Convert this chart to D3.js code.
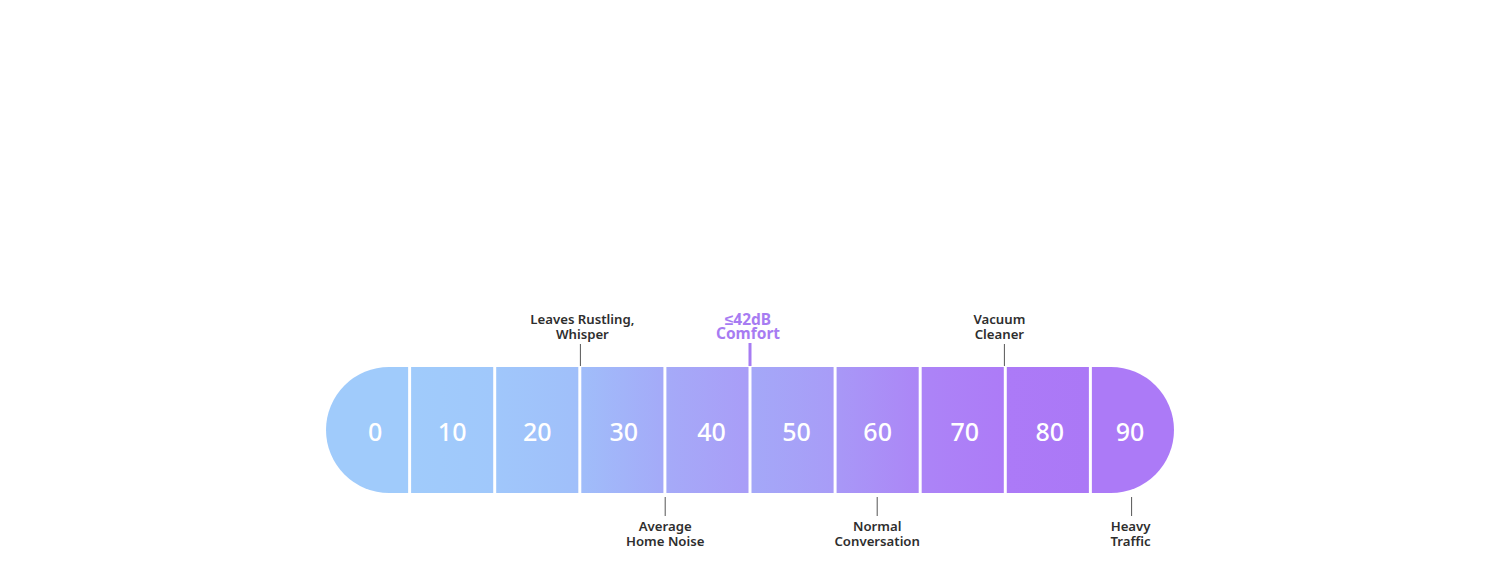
<!DOCTYPE html>
<html>
<head>
<meta charset="utf-8">
<script src="https://cdn.jsdelivr.net/npm/d3@7"></script>
<style>
  body { margin: 0; background: #fff; }
  text { font-family: "Noto Sans", sans-serif; }
</style>
</head>
<body>
<div id="viz-container"></div>
<script>
// sound levels, one cell per 10 dB
const levels = [0, 10, 20, 30, 40, 50, 60, 70, 80, 90];
// each cell fades from its own start colour to its end colour
const cellStart = ["#a0cbfb", "#a0cbfb", "#a0c7fb", "#a0bdfa", "#a5aaf8", "#a4a8f8", "#a898f7", "#ac84f7", "#ac7af7", "#ac7af7"];
const cellEnd   = ["#a0cbfb", "#a0c8fb", "#a0bffa", "#a4aaf8", "#a99df7", "#a89cf7", "#ac86f6", "#ad7bf7", "#ab78f6", "#ac7af7"];

// annotations (dB position on the scale)
const noteText  = [["Leaves Rustling,", "Whisper"], ["Average", "Home Noise"], ["Normal", "Conversation"], ["Vacuum", "Cleaner"], ["Heavy", "Traffic"]];
const noteDb    = [30, 40, 65, 80, 95];
const noteSide  = ["top", "bottom", "bottom", "top", "bottom"];

const comfortText = ["≤42dB", "Comfort"];
const comfortDb = 50;

const W = 1500, H = 578;
const barTop = 367, barBottom = 493, mid = (barTop + barBottom) / 2, r = (barBottom - barTop) / 2;
// small nudges of the number labels from the cell centres, and of note text from its tick
const numShift = [8, 0, 0, 1.5, 4, 4, 0, 2, 2, -3];
const noteShift = [2, 0, 0, -5, -1];

let viz = d3.select("#viz-container")
              .append("svg")
                .attr("width", W)
                .attr("height", H)
;

let xBand = d3.scaleBand().domain(levels).range([326, 1174]).paddingInner(0.035).paddingOuter(0);
let xDb = d3.scaleLinear().domain([0, 100]).range([326, 1174]);

// gradients
let defs = viz.append("defs");
levels.forEach(function(d, i){
    let g = defs.append("linearGradient").attr("id", "g" + i)
                .attr("x1", "0%").attr("x2", "100%").attr("y1", "0%").attr("y2", "0%");
    g.append("stop").attr("offset", "0%").attr("stop-color", cellStart[i]);
    g.append("stop").attr("offset", "100%").attr("stop-color", cellEnd[i]);
});

function cellPath(d, i){
    let x0 = xBand(d), x1 = x0 + xBand.bandwidth();
    let p = d3.path();
    if (i === 0) {
        p.moveTo(x1, barTop);
        p.lineTo(x0 + r, barTop);
        p.arc(x0 + r, mid, r, -Math.PI / 2, Math.PI / 2, true);
        p.lineTo(x1, barBottom);
        p.closePath();
    } else if (i === levels.length - 1) {
        p.moveTo(x0, barTop);
        p.lineTo(x1 - r, barTop);
        p.arc(x1 - r, mid, r, -Math.PI / 2, Math.PI / 2, false);
        p.lineTo(x0, barBottom);
        p.closePath();
    } else {
        p.rect(x0, barTop, x1 - x0, barBottom - barTop);
    }
    return p.toString();
}

viz.selectAll("path.cell").data(levels).enter().append("path")
    .attr("class", "cell")
    .attr("d", cellPath)
    .attr("fill", function(d, i){ return "url(#g" + i + ")"; })
;

// numbers inside the cells
viz.selectAll("text.num").data(levels).enter().append("text")
    .attr("class", "num")
    .attr("x", function(d, i){ return xBand(d) + xBand.bandwidth() / 2 + numShift[i]; })
    .attr("y", 441)
    .attr("text-anchor", "middle")
    .attr("fill", "#fff")
    .attr("font-size", 25)
    .attr("font-weight", 500)
    .text(function(d){ return d; })
;

// annotations
let notes = viz.selectAll("g.note").data(noteDb).enter().append("g").attr("class", "note");
notes.append("line")
    .attr("x1", function(d){ return xDb(d); })
    .attr("x2", function(d){ return xDb(d); })
    .attr("y1", function(d, i){ return noteSide[i] === "top" ? 344 : 497; })
    .attr("y2", function(d, i){ return noteSide[i] === "top" ? 366 : 516; })
    .attr("stroke", "#555")
    .attr("stroke-width", 1)
;
notes.each(function(d, i){
    let g = d3.select(this);
    let y0 = noteSide[i] === "top" ? 324 : 531;
    noteText[i].forEach(function(t, j){
        g.append("text")
            .attr("x", xDb(d) + noteShift[i])
            .attr("y", y0 + j * 15)
            .attr("text-anchor", "middle")
            .attr("fill", "#2e2e2e")
            .attr("font-size", 13.2)
            .attr("font-weight", 600)
            .text(t);
    });
});

// comfort marker
viz.append("line")
    .attr("x1", xDb(comfortDb)).attr("x2", xDb(comfortDb))
    .attr("y1", 343).attr("y2", 366)
    .attr("stroke", "#a77cf2")
    .attr("stroke-width", 3)
;
viz.selectAll("text.comfort").data(comfortText).enter().append("text")
    .attr("class", "comfort")
    .attr("x", xDb(comfortDb) - 2)
    .attr("y", function(d, i){ return 325 + i * 14; })
    .attr("text-anchor", "middle")
    .attr("fill", "#a77cf2")
    .attr("font-size", 15.5)
    .attr("font-weight", 700)
    .text(function(d){ return d; })
;
</script>
</body>
</html>
